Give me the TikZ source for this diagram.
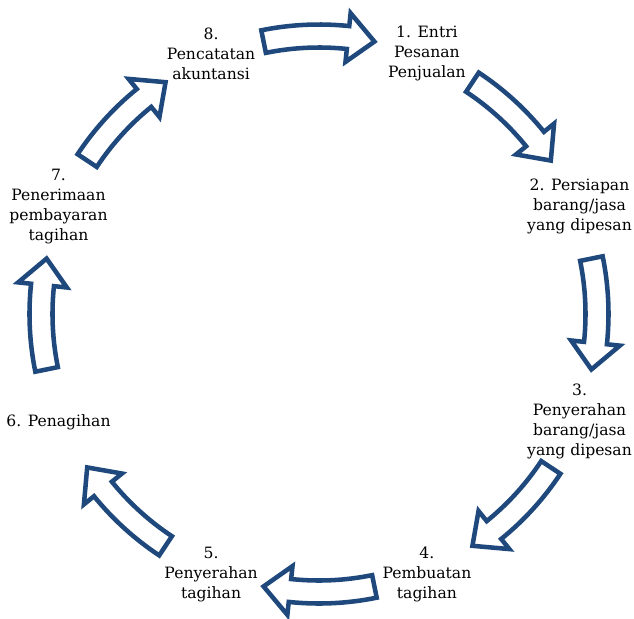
\documentclass[tikz,border=0pt]{standalone}
\usepackage{fontspec}
\setmainfont{DejaVu Serif}
\usetikzlibrary{calc}
\definecolor{arrowblue}{RGB}{31,73,125}
\tikzset{
  cyclbl/.style={align=center, inner sep=0.75pt, text=black, font=\fontsize{11.7}{15}\selectfont},
  cycarrow/.style={draw=arrowblue, line width=3.4pt, fill=white, line join=miter}
}

\begin{document}
\begin{tikzpicture}[x=0.75pt,y=0.75pt]
\useasboundingbox (-319,-304) rectangle (315,314);
\coordinate (c) at (0,0);

% Text Node
\node[cyclbl] (s1) at (67.5:282) {1. Entri\\Pesanan\\Penjualan};
% Text Node
\node[cyclbl] (s2) at (22.5:282) {2. Persiapan\\barang/jasa\\yang dipesan};
% Text Node
\node[cyclbl] (s3) at (-22.5:282) {3.\\Penyerahan\\barang/jasa\\yang dipesan};
% Text Node
\node[cyclbl] (s4) at (-67.5:282) {4.\\Pembuatan\\tagihan};
% Text Node
\node[cyclbl] (s5) at (-112.5:282) {5.\\Penyerahan\\tagihan};
% Text Node
\node[cyclbl] (s6) at (-157.5:282) {6. Penagihan};
% Text Node
\node[cyclbl] (s7) at (157.5:282) {7.\\Penerimaan\\pembayaran\\tagihan};
% Text Node
\node[cyclbl] (s8) at (112.5:282) {8.\\Pencatatan\\akuntansi};

% Block Arrows (clockwise, between the steps)
\foreach \m in {90,45,...,-225} {
  \draw[cycarrow] ($(c)+(\m+11.5:289.5)$) arc[start angle=\m+11.5, end angle=\m-6, radius=289.5]
    -- ($(c)+(\m-6:302.5)$) -- ($(c)+(\m-11.5:278)$) -- ($(c)+(\m-6:253.5)$)
    -- ($(c)+(\m-6:266.5)$) arc[start angle=\m-6, end angle=\m+11.5, radius=266.5] -- cycle;
}

\end{tikzpicture}
\end{document}
